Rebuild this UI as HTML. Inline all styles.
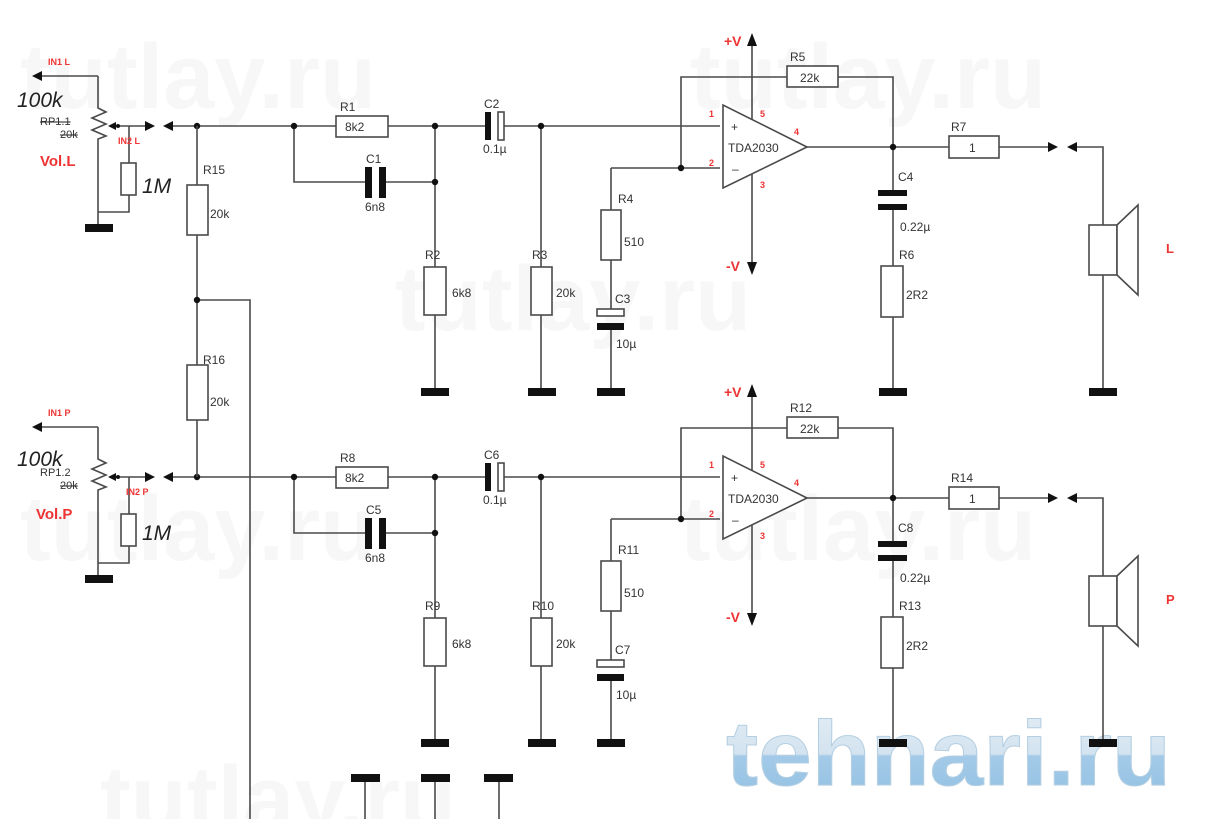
<!DOCTYPE html>
<html><head><meta charset="utf-8"><style>
html,body{margin:0;padding:0;background:#fff;}
svg{display:block;}
text{font-family:"Liberation Sans",sans-serif;}
</style></head><body>
<svg width="1216" height="819" viewBox="0 0 1216 819" xmlns="http://www.w3.org/2000/svg">
<defs>
<linearGradient id="lg" x1="0" y1="0" x2="0" y2="1">
<stop offset="0" stop-color="#e4eef6"/><stop offset="0.5" stop-color="#d3e3ef"/><stop offset="0.52" stop-color="#a3cae8"/><stop offset="1" stop-color="#93c0e2"/>
</linearGradient>
<g id="ch" stroke="#4a4a4a" stroke-width="1.6" fill="none">
<path d="M98 76H38M98 76V108l8 4l-14 6l14 6l-14 6l14 6l-8 3V214M98 214V224"/>
<path d="M112 126H150M129 126V163M129 195V212H98"/>
<path d="M173 126H485M504 126H720"/>
<path d="M294 126V182H365M386 182H435M435 126V267M435 315V388"/>
<path d="M541 126V267M541 315V388"/>
<path d="M611 168H720M611 168V210M611 260V309M611 330V388"/>
<path d="M681 168V77H787M838 77H893V147"/>
<path d="M752 120V44M752 174V264"/>
<path d="M807 147H1050M1077 147H1103V225M1103 275V388"/>
<path d="M893 147V190M893 210V266M893 317V388"/>
<g fill="#fff">
<rect x="121" y="163" width="15" height="32"/>
<rect x="336" y="116" width="52" height="21"/>
<rect x="424" y="267" width="22" height="48"/>
<rect x="531" y="267" width="21" height="48"/>
<rect x="601" y="210" width="20" height="50"/>
<rect x="597" y="309" width="27" height="7"/>
<rect x="498" y="112" width="6" height="28"/>
<rect x="787" y="66" width="51" height="21"/>
<polygon points="723,105 723,188 807,147"/>
<rect x="949" y="136" width="50" height="22"/>
<rect x="881" y="266" width="22" height="51"/>
<rect x="1089" y="225" width="28" height="50"/>
<polygon points="1117,225 1138,205 1138,295 1117,275"/>
</g>
<g fill="#111" stroke="none">
<polygon points="32,76 42,71 42,81"/>
<polygon points="108,126 116,122 116,130"/>
<polygon points="155,126 145,121 145,131"/>
<polygon points="163,126 173,121 173,131"/>
<polygon points="752,33 747,46 757,46"/>
<polygon points="752,275 747,262 757,262"/>
<polygon points="1058,147 1048,142 1048,152"/>
<polygon points="1067,147 1077,142 1077,152"/>
<rect x="85" y="224" width="28" height="8"/>
<rect x="421" y="388" width="28" height="8"/>
<rect x="528" y="388" width="28" height="8"/>
<rect x="597" y="388" width="28" height="8"/>
<rect x="879" y="388" width="28" height="8"/>
<rect x="1089" y="388" width="28" height="8"/>
<rect x="485" y="112" width="6" height="28"/>
<rect x="365" y="167" width="7" height="31"/>
<rect x="379" y="167" width="7" height="31"/>
<rect x="597" y="323" width="27" height="7"/>
<rect x="878" y="190" width="29" height="6"/>
<rect x="878" y="204" width="29" height="6"/>
<circle cx="197" cy="126" r="3.2"/>
<circle cx="294" cy="126" r="3.2"/>
<circle cx="435" cy="126" r="3.2"/>
<circle cx="435" cy="182" r="3.2"/>
<circle cx="541" cy="126" r="3.2"/>
<circle cx="681" cy="168" r="3.2"/>
<circle cx="893" cy="147" r="3.2"/>
<circle cx="118" cy="126" r="2"/>
</g>
</g>
</defs>

<g font-weight="bold" font-size="92" fill="#f7f7f7">
<text x="20" y="108">tutlay.ru</text>
<text x="690" y="108">tutlay.ru</text>
<text x="395" y="330">tutlay.ru</text>
<text x="20" y="560">tutlay.ru</text>
<text x="680" y="560">tutlay.ru</text>
<text x="100" y="830">tutlay.ru</text>
</g>

<text x="726" y="785" font-size="92" font-weight="bold" textLength="445" lengthAdjust="spacingAndGlyphs" fill="url(#lg)" stroke="#b5cfe2" stroke-width="1">tehnari.ru</text>

<use href="#ch"/>
<use href="#ch" transform="translate(0,351)"/>

<g stroke="#4a4a4a" stroke-width="1.6" fill="none">
<path d="M197 126V185M197 235V365M197 420V477M197 300H250V819"/>
<path d="M365 781V819M435 781V819M499 781V819"/>
<rect x="187" y="185" width="21" height="50" fill="#fff"/>
<rect x="187" y="365" width="21" height="55" fill="#fff"/>
</g>
<g fill="#111">
<circle cx="197" cy="300" r="3.2"/>
<rect x="351" y="774" width="29" height="8"/>
<rect x="421" y="774" width="29" height="8"/>
<rect x="484" y="774" width="29" height="8"/>
</g>

<g font-size="12" fill="#333">
<text x="203" y="174">R15</text><text x="210" y="218">20k</text>
<text x="203" y="364">R16</text><text x="210" y="406">20k</text>
</g>

<g font-size="12" fill="#333">
<text x="40" y="125" font-size="11" text-decoration="line-through">RP1.1</text>
<text x="60" y="138" font-size="11" text-decoration="line-through">20k</text>
<text x="340" y="111">R1</text><text x="345" y="131">8k2</text>
<text x="366" y="163">C1</text><text x="365" y="211">6n8</text>
<text x="484" y="108">C2</text><text x="483" y="153">0.1µ</text>
<text x="425" y="259">R2</text><text x="452" y="297">6k8</text>
<text x="532" y="259">R3</text><text x="556" y="297">20k</text>
<text x="618" y="203">R4</text><text x="624" y="246">510</text>
<text x="615" y="303">C3</text><text x="616" y="348">10µ</text>
<text x="790" y="61">R5</text><text x="800" y="82">22k</text>
<text x="728" y="152">TDA2030</text>
<text x="731" y="131">+</text><text x="732" y="173">–</text>
<text x="898" y="181">C4</text><text x="900" y="231">0.22µ</text>
<text x="899" y="259">R6</text><text x="906" y="299">2R2</text>
<text x="951" y="131">R7</text><text x="969" y="152">1</text>
</g>
<g fill="#e33" font-weight="bold">
<text x="48" y="65" font-size="9">IN1 L</text>
<text x="118" y="144" font-size="9">IN2 L</text>
<text x="40" y="166" font-size="15">Vol.L</text>
<text x="709" y="117" font-size="9">1</text><text x="760" y="117" font-size="9">5</text>
<text x="794" y="135" font-size="9">4</text><text x="709" y="166" font-size="9">2</text>
<text x="760" y="188" font-size="9">3</text>
<text x="724" y="46" font-size="14">+V</text>
<text x="726" y="271" font-size="14">-V</text>
<text x="1166" y="253" font-size="13">L</text>
</g>
<g fill="#222" font-style="italic" font-size="21">
<text x="17" y="107">100k</text>
<text x="142" y="193">1M</text>
</g>

<g font-size="12" fill="#333">
<text x="40" y="476" font-size="11">RP1.2</text>
<text x="60" y="489" font-size="11" text-decoration="line-through">20k</text>
<text x="340" y="462">R8</text><text x="345" y="482">8k2</text>
<text x="366" y="514">C5</text><text x="365" y="562">6n8</text>
<text x="484" y="459">C6</text><text x="483" y="504">0.1µ</text>
<text x="425" y="610">R9</text><text x="452" y="648">6k8</text>
<text x="532" y="610">R10</text><text x="556" y="648">20k</text>
<text x="618" y="554">R11</text><text x="624" y="597">510</text>
<text x="615" y="654">C7</text><text x="616" y="699">10µ</text>
<text x="790" y="412">R12</text><text x="800" y="433">22k</text>
<text x="728" y="503">TDA2030</text>
<text x="731" y="482">+</text><text x="732" y="524">–</text>
<text x="898" y="532">C8</text><text x="900" y="582">0.22µ</text>
<text x="899" y="610">R13</text><text x="906" y="650">2R2</text>
<text x="951" y="482">R14</text><text x="969" y="503">1</text>
</g>
<g fill="#e33" font-weight="bold">
<text x="48" y="416" font-size="9">IN1 P</text>
<text x="126" y="495" font-size="9">IN2 P</text>
<text x="36" y="519" font-size="15">Vol.P</text>
<text x="709" y="468" font-size="9">1</text><text x="760" y="468" font-size="9">5</text>
<text x="794" y="486" font-size="9">4</text><text x="709" y="517" font-size="9">2</text>
<text x="760" y="539" font-size="9">3</text>
<text x="724" y="397" font-size="14">+V</text>
<text x="726" y="622" font-size="14">-V</text>
<text x="1166" y="604" font-size="13">P</text>
</g>
<g fill="#222" font-style="italic" font-size="21">
<text x="17" y="466">100k</text>
<text x="142" y="540">1M</text>
</g>
</svg>
</body></html>
